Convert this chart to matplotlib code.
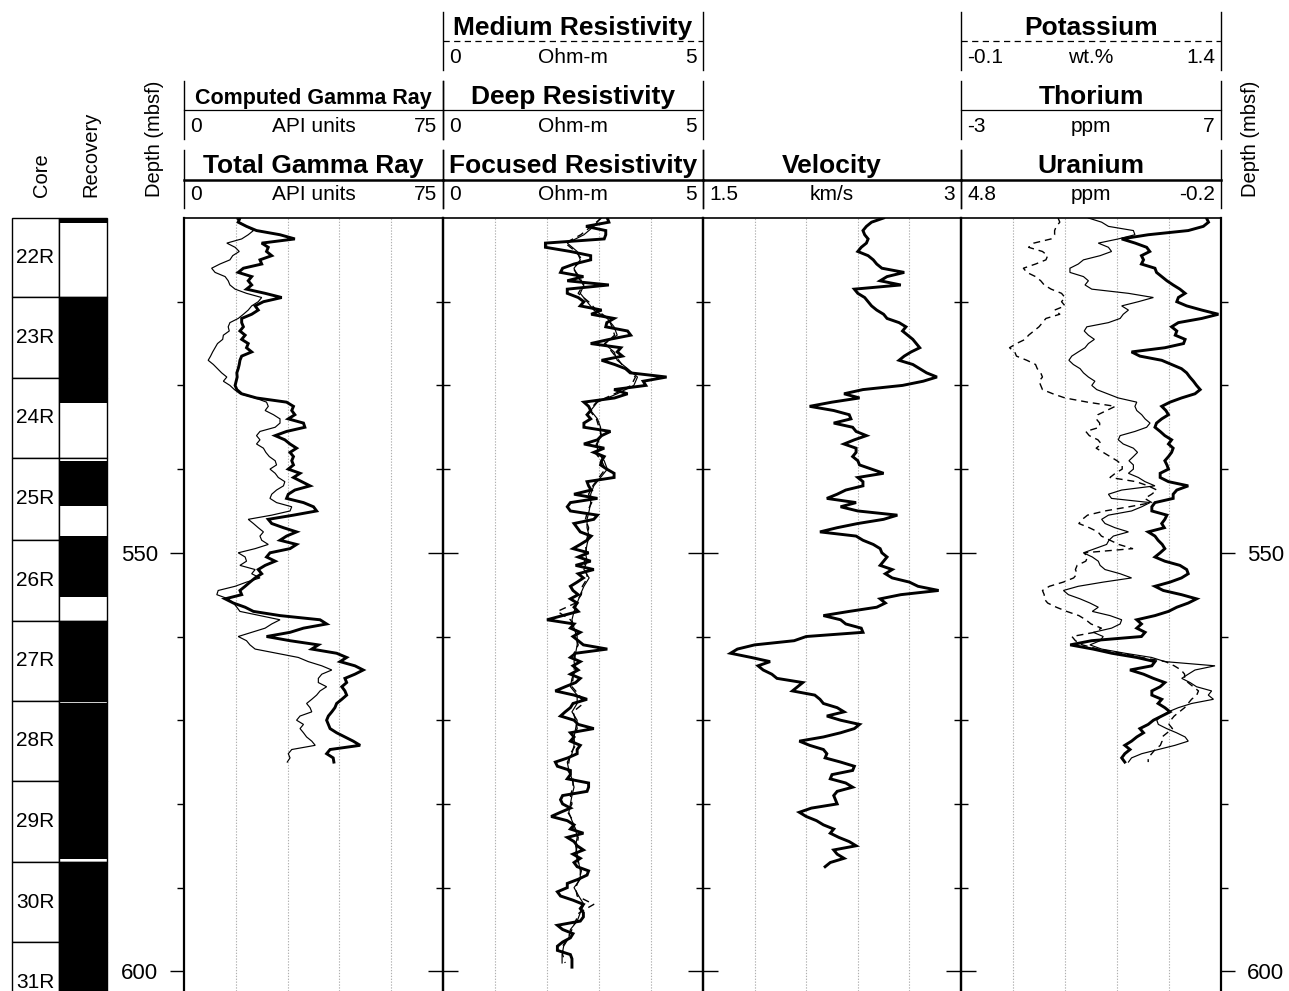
import numpy as np
import matplotlib
matplotlib.use('Agg')
import matplotlib.pyplot as plt
from matplotlib import font_manager
from matplotlib.lines import Line2D
from matplotlib.patches import Rectangle

plt.rcParams['font.family'] = ['Liberation Sans', 'DejaVu Sans']
_names = {f.name for f in font_manager.fontManager.ttflist}
NARROW = 'Liberation Sans Narrow' if 'Liberation Sans Narrow' in _names else None

# ---------------- data (depth in mbsf) ----------------
CORE_NAMES = ['22R', '23R', '24R', '25R', '26R', '27R', '28R', '29R', '30R', '31R']
CORE_TOP = [510.0, 519.45, 529.1, 538.65, 548.45, 558.15, 567.7, 577.25, 586.95, 596.5]
CORE_BOT = [519.45, 529.1, 538.65, 548.45, 558.15, 567.7, 577.25, 586.95, 596.5, 606.1]
REC_TOP = [510.0, 519.45, 539.0, 548.0, 558.15, 567.95, 586.95]
REC_BOT = [510.6, 532.1, 544.4, 555.3, 567.7, 586.6, 606.1]

LOG_TOP = 510.0
STEP = 0.5      # sample spacing of the digitised logs (m)
STEP_RES = 1.0  # deep / medium resistivity spacing (m)

total_gr = [
    16.2, 15.7, 18.1, 21.0, 27.8, 32.1, 22.5, 24.4, 23.9, 25.4,
    22.0, 22.5, 17.2, 15.7, 19.6, 18.6, 19.6, 18.1, 23.5, 28.3,
    23.0, 20.6, 21.5, 19.6, 16.7, 16.7, 17.2, 16.2, 17.7, 16.7,
    18.6, 18.1, 19.6, 16.7, 16.2, 16.0, 15.7, 15.3, 15.4, 15.1,
    14.8, 15.3, 16.7, 21.0, 29.7, 31.7, 31.2, 32.1, 30.2, 34.6,
    35.0, 29.7, 26.4, 29.2, 30.7, 32.6, 30.7, 31.7, 31.2, 31.7,
    30.2, 33.6, 31.7, 34.1, 36.5, 32.1, 30.2, 29.7, 34.6, 37.5,
    38.4, 31.7, 24.4, 25.4, 28.8, 32.6, 29.7, 27.8, 32.6, 30.7,
    24.9, 23.9, 26.4, 23.5, 21.5, 22.5, 20.6, 19.1, 17.7, 16.2,
    16.7, 11.9, 14.3, 17.7, 20.1, 27.8, 39.4, 41.3, 34.6, 30.7,
    23.9, 30.7, 38.9, 37.0, 44.2, 47.1, 45.2, 49.5, 51.9, 49.5,
    46.6, 47.1, 45.7, 46.6, 47.1, 45.7, 44.2, 43.7, 42.8, 41.8,
    41.3, 41.8, 42.3, 44.2, 46.6, 49.0, 51.0, 42.3, 41.3, 43.2, 43.4]

computed_gr = [
    15.3, 16.0, 18.1, 20.1, 18.6, 16.7, 12.4, 14.8, 16.0, 14.1,
    13.3, 10.4, 8.0, 9.0, 11.9, 12.8, 13.3, 14.8, 18.1, 22.5,
    21.5, 19.6, 18.6, 17.2, 15.7, 13.3, 12.8, 13.1, 11.4, 11.2,
    9.7, 9.0, 8.3, 7.7, 7.0, 8.5, 9.7, 10.9, 12.4, 11.4,
    13.3, 14.6, 16.2, 20.6, 23.9, 24.4, 23.5, 25.9, 27.8, 27.8,
    26.4, 22.0, 21.0, 22.0, 21.0, 23.0, 23.7, 24.7, 26.4, 26.8,
    24.9, 26.4, 27.3, 29.2, 28.8, 26.8, 25.4, 24.9, 26.8, 31.2,
    30.7, 25.4, 18.6, 20.1, 21.5, 23.0, 22.0, 22.5, 24.4, 20.6,
    15.7, 17.7, 18.1, 16.2, 20.6, 19.6, 22.0, 18.1, 14.8, 9.9,
    9.5, 12.8, 14.3, 15.3, 16.2, 22.0, 27.8, 25.4, 23.5, 19.6,
    15.7, 18.1, 19.1, 20.6, 26.8, 33.1, 36.0, 39.9, 42.8, 39.9,
    38.9, 38.9, 41.3, 39.4, 38.4, 37.0, 35.5, 36.5, 37.0, 33.6,
    32.6, 34.6, 33.6, 34.6, 35.5, 37.0, 38.0, 31.2, 30.2, 30.7, 29.9]

focused_res = [
    3.16, 3.19, 2.75, 3.13, 3.13, 3.10, 1.97, 1.97, 2.45, 2.84,
    2.84, 2.52, 2.30, 2.26, 2.70, 2.39, 3.19, 2.39, 2.39, 2.60,
    2.71, 2.64, 3.05, 2.85, 3.29, 3.15, 3.13, 3.55, 3.61, 3.20,
    2.84, 3.42, 3.35, 3.45, 3.05, 3.30, 3.51, 3.60, 4.30, 3.85,
    3.90, 3.29, 3.55, 3.30, 2.71, 2.80, 2.84, 2.77, 2.84, 2.71,
    2.71, 3.22, 3.05, 2.97, 2.71, 3.10, 2.90, 3.10, 3.05, 3.03,
    3.15, 3.29, 3.29, 2.77, 2.80, 2.85, 2.52, 2.97, 2.45, 2.39,
    2.45, 2.97, 2.90, 2.52, 2.58, 2.64, 2.85, 2.77, 2.64, 2.50,
    2.80, 2.60, 2.84, 2.55, 2.90, 2.60, 2.70, 2.58, 2.45, 2.50,
    2.60, 2.45, 2.58, 2.52, 2.60, 2.30, 2.00, 2.52, 2.45, 2.64,
    2.50, 2.60, 2.70, 3.16, 2.55, 2.45, 2.64, 2.50, 2.60, 2.45,
    2.64, 2.55, 2.35, 2.16, 2.52, 2.77, 2.50, 2.45, 2.35, 2.26,
    2.52, 2.60, 2.90, 2.45, 2.52, 2.45, 2.64, 2.58, 2.58, 2.40,
    2.16, 2.20, 2.45, 2.45, 2.39, 2.80, 2.80, 2.77, 2.30, 2.26,
    2.30, 2.45, 2.26, 2.08, 2.39, 2.52, 2.45, 2.70, 2.39, 2.52,
    2.58, 2.70, 2.50, 2.64, 2.52, 2.58, 2.80, 2.77, 2.60, 2.39,
    2.39, 2.20, 2.26, 2.50, 2.70, 2.64, 2.70, 2.70, 2.64, 2.20,
    2.30, 2.50, 2.45, 2.30, 2.20, 2.20, 2.45, 2.48, 2.48, 2.48]

deep_res = [
    3.03, 2.90, 2.71, 2.39, 2.58, 2.64, 2.52, 2.58, 2.71, 2.64,
    2.77, 2.90, 3.16, 3.29, 3.35, 3.10, 3.29, 3.35, 3.55, 3.74,
    3.67, 3.35, 2.97, 2.84, 2.97, 3.03, 3.03, 2.97, 2.97, 3.10,
    3.16, 3.03, 2.90, 2.84, 2.84, 2.81, 2.77, 2.77, 2.81, 2.77,
    2.74, 2.77, 2.71, 2.81, 2.71, 2.64, 2.58, 2.52, 2.48, 2.52,
    2.58, 2.58, 2.55, 2.52, 2.55, 2.48, 2.45, 2.58, 2.58, 2.48,
    2.58, 2.55, 2.52, 2.52, 2.48, 2.39, 2.42, 2.48, 2.52, 2.48,
    2.45, 2.42, 2.48, 2.55, 2.58, 2.55, 2.58, 2.61, 2.64, 2.64,
    2.52, 2.61, 2.71, 2.64, 2.58, 2.45, 2.42, 2.32, 2.29, 2.29]

medium_res = [
    3.05, 2.85, 2.65, 2.35, 2.55, 2.68, 2.50, 2.62, 2.70, 2.60,
    2.80, 2.95, 3.18, 3.25, 3.30, 3.12, 3.25, 3.38, 3.50, 3.70,
    3.62, 3.30, 2.95, 2.82, 2.95, 3.00, 3.05, 2.95, 2.92, 3.05,
    3.12, 3.00, 2.88, 2.80, 2.86, 2.78, 2.74, 2.80, 2.78, 2.74,
    2.76, 2.72, 2.74, 2.78, 2.68, 2.66, 2.55, 2.20, 2.45, 2.55,
    2.55, 2.60, 2.52, 2.55, 2.52, 2.50, 2.48, 2.62, 2.70, 2.50,
    2.55, 2.58, 2.50, 2.55, 2.45, 2.42, 2.40, 2.50, 2.50, 2.45,
    2.48, 2.40, 2.50, 2.52, 2.60, 2.58, 2.55, 2.60, 2.66, 2.62,
    2.55, 2.58, 2.90, 2.62, 2.55, 2.48, 2.40, 2.30, 2.30, 2.35]

velocity = [
    2.55, 2.48, 2.45, 2.43, 2.44, 2.46, 2.45, 2.42, 2.40, 2.46,
    2.49, 2.51, 2.54, 2.67, 2.57, 2.53, 2.65, 2.38, 2.40, 2.44,
    2.46, 2.48, 2.51, 2.55, 2.57, 2.64, 2.68, 2.66, 2.69, 2.72,
    2.74, 2.76, 2.71, 2.67, 2.64, 2.72, 2.76, 2.80, 2.86, 2.78,
    2.66, 2.43, 2.32, 2.41, 2.25, 2.12, 2.26, 2.35, 2.36, 2.26,
    2.37, 2.39, 2.45, 2.38, 2.32, 2.39, 2.39, 2.37, 2.40, 2.41,
    2.48, 2.55, 2.40, 2.43, 2.43, 2.33, 2.28, 2.22, 2.39, 2.30,
    2.40, 2.63, 2.55, 2.40, 2.28, 2.18, 2.39, 2.43, 2.49, 2.53,
    2.54, 2.57, 2.55, 2.53, 2.60, 2.56, 2.60, 2.70, 2.75, 2.87,
    2.65, 2.53, 2.56, 2.51, 2.35, 2.20, 2.30, 2.33, 2.42, 2.43,
    2.10, 2.03, 1.80, 1.70, 1.66, 1.78, 1.89, 1.82, 1.85, 1.90,
    1.93, 2.08, 2.05, 2.02, 2.15, 2.18, 2.20, 2.28, 2.32, 2.22,
    2.30, 2.41, 2.38, 2.30, 2.20, 2.06, 2.12, 2.20, 2.22, 2.21,
    2.30, 2.38, 2.37, 2.25, 2.24, 2.33, 2.37, 2.28, 2.26, 2.27,
    2.28, 2.13, 2.06, 2.10, 2.16, 2.20, 2.26, 2.24, 2.29, 2.35,
    2.39, 2.26, 2.28, 2.32, 2.24, 2.21]

uranium = [
    0.08, 0.04, 0.14, 0.43, 1.20, 1.71, 1.45, 1.23, 1.17, 1.33,
    1.29, 1.33, 1.07, 1.04, 0.94, 0.84, 0.72, 0.59, 0.49, 0.62,
    0.65, 0.46, 0.17, -0.15, 0.17, 0.62, 0.75, 0.65, 0.68, 0.49,
    0.52, 0.88, 1.52, 1.36, 0.94, 0.75, 0.56, 0.46, 0.40, 0.33,
    0.27, 0.20, 0.30, 0.56, 0.78, 0.94, 0.86, 0.81, 0.94, 1.04,
    1.07, 0.97, 0.88, 0.75, 0.81, 0.72, 0.75, 0.81, 0.88, 0.84,
    0.81, 0.97, 0.97, 0.81, 0.43, 0.65, 0.72, 0.72, 1.07, 1.13,
    1.13, 0.84, 0.88, 0.94, 0.89, 1.20, 1.07, 1.01, 0.93, 0.88,
    0.97, 1.07, 0.88, 0.59, 0.46, 0.43, 0.56, 0.78, 1.07, 0.91,
    0.56, 0.27, 0.43, 0.65, 0.81, 1.07, 1.42, 1.33, 1.42, 1.26,
    1.33, 2.29, 2.70, 2.26, 1.90, 1.42, 1.07, 1.13, 1.55, 1.29,
    1.10, 0.88, 0.97, 1.13, 1.13, 0.94, 1.01, 0.88, 0.78, 0.94,
    1.10, 1.20, 1.36, 1.29, 1.42, 1.52, 1.65, 1.55, 1.65, 1.71, 1.65]

thorium = [
    1.90, 2.41, 2.67, 3.63, 3.69, 3.05, 2.28, 2.67, 2.79, 2.35,
    1.71, 1.51, 1.19, 1.19, 1.71, 1.90, 1.77, 2.03, 3.44, 4.40,
    3.82, 3.18, 3.44, 3.24, 3.12, 2.67, 1.84, 1.74, 1.90, 2.13,
    1.90, 1.77, 1.51, 1.26, 1.15, 1.32, 1.58, 1.71, 1.90, 2.15,
    2.03, 2.22, 2.64, 3.05, 3.76, 3.69, 3.76, 3.95, 4.08, 4.27,
    4.14, 3.69, 3.12, 3.05, 3.24, 3.63, 3.79, 3.63, 3.46, 3.63,
    3.63, 3.44, 3.82, 4.08, 4.46, 3.18, 2.67, 2.79, 4.27, 3.95,
    3.56, 2.67, 2.41, 2.54, 2.92, 3.44, 2.86, 2.69, 2.60, 2.15,
    1.71, 2.05, 2.28, 2.35, 2.54, 3.12, 3.56, 2.47, 1.51, 0.94,
    1.13, 1.58, 1.96, 2.28, 2.05, 2.73, 3.18, 3.12, 2.79, 2.09,
    2.47, 2.35, 1.96, 2.41, 3.31, 4.33, 4.85, 6.77, 6.00, 5.74,
    5.49, 5.81, 6.06, 6.64, 6.51, 6.71, 5.87, 5.36, 4.97, 4.72,
    4.53, 4.59, 4.91, 5.29, 5.62, 5.74, 5.23, 4.59, 3.95, 3.56, 3.44]

potassium = [
    0.46, 0.47, 0.45, 0.44, 0.44, 0.42, 0.32, 0.29, 0.37, 0.40,
    0.39, 0.33, 0.26, 0.28, 0.33, 0.36, 0.38, 0.42, 0.48, 0.50,
    0.48, 0.50, 0.44, 0.47, 0.39, 0.37, 0.35, 0.32, 0.29, 0.27,
    0.22, 0.18, 0.21, 0.22, 0.28, 0.33, 0.34, 0.36, 0.37, 0.35,
    0.36, 0.37, 0.43, 0.50, 0.63, 0.79, 0.74, 0.69, 0.68, 0.70,
    0.70, 0.62, 0.64, 0.69, 0.71, 0.68, 0.72, 0.76, 0.80, 0.83,
    0.83, 0.79, 0.76, 0.91, 0.98, 1.03, 1.00, 0.96, 1.00, 0.87,
    0.73, 0.63, 0.60, 0.58, 0.64, 0.69, 0.71, 0.76, 0.81, 0.89,
    0.61, 0.63, 0.62, 0.57, 0.56, 0.57, 0.55, 0.49, 0.41, 0.37,
    0.38, 0.38, 0.40, 0.45, 0.51, 0.58, 0.62, 0.65, 0.71, 0.67,
    0.54, 0.56, 0.60, 0.69, 0.83, 0.94, 1.08, 1.13, 1.17, 1.19,
    1.19, 1.21, 1.24, 1.27, 1.26, 1.23, 1.21, 1.19, 1.16, 1.13,
    1.11, 1.10, 1.12, 1.09, 1.06, 1.06, 1.05, 1.02, 1.00, 0.98, 0.98]

MAJOR_DEPTHS = [550, 600]
MINOR_DEPTHS = [520, 530, 540, 560, 570, 580, 590]


def depths(vals, step):
    return LOG_TOP + step * np.arange(len(vals))


# ---------------- layout ----------------
FIG_PX = (1289, 991)
PLOT_TOP_PX = 218
D_TOP, D_BOT = 510.0, 602.35

fig = plt.figure(figsize=(FIG_PX[0] / 100, FIG_PX[1] / 100), dpi=100)
fig.patch.set_facecolor('white')


def fx(px):
    return px / FIG_PX[0]


def fy(py):
    return 1.0 - py / FIG_PX[1]


def column_axes(x0, x1):
    ax = fig.add_axes([fx(x0), 0.0, fx(x1) - fx(x0), fy(PLOT_TOP_PX)])
    ax.set_facecolor('none')
    ax.set_ylim(D_BOT, D_TOP)
    return ax


STYLES = {
    'thick': dict(lw=2.1, ls='-'),
    'thin': dict(lw=0.85, ls='-'),
    'dash': dict(lw=1.0, ls=(0, (5, 3.5))),
}
HDR_STYLES = {
    'thick': dict(lw=1.8, ls='-'),
    'thin': dict(lw=0.9, ls='-'),
    'dash': dict(lw=0.9, ls=(0, (5, 3.5))),
}
# row -> (bar top, bar bottom, line y, title baseline, scale baseline), px from top
ROWS = {1: (12, 70, 41, 35, 63), 2: (81, 139, 110, 104, 132), 3: (150, 208, 180, 173, 200)}

# track px span, x range, curves: (row, title, unit, values, step, style, narrow title)
TRACKS = [
    ((184, 443), (0, 75), [
        (2, 'Computed Gamma Ray', 'API units', computed_gr, STEP, 'thin', True),
        (3, 'Total Gamma Ray', 'API units', total_gr, STEP, 'thick', False)]),
    ((443, 703), (0, 5), [
        (1, 'Medium Resistivity', 'Ohm-m', medium_res, STEP_RES, 'dash', False),
        (2, 'Deep Resistivity', 'Ohm-m', deep_res, STEP_RES, 'thin', False),
        (3, 'Focused Resistivity', 'Ohm-m', focused_res, STEP, 'thick', False)]),
    ((703, 961), (1.5, 3), [
        (3, 'Velocity', 'km/s', velocity, STEP, 'thick', False)]),
    ((961, 1221), None, [
        (1, 'Potassium', 'wt.%', potassium, STEP, 'dash', False),
        (2, 'Thorium', 'ppm', thorium, STEP, 'thin', False),
        (3, 'Uranium', 'ppm', uranium, STEP, 'thick', False)]),
]
TRACK4_RANGES = {'Potassium': (-0.1, 1.4), 'Thorium': (-3, 7), 'Uranium': (4.8, -0.2)}


def fig_line(xs, ys, **kw):
    fig.add_artist(Line2D([fx(x) for x in xs], [fy(y) for y in ys],
                          transform=fig.transFigure, color='black', **kw))


def set_depth_ticks(ax, direction, labels, side='left'):
    ax.set_yticks(MAJOR_DEPTHS)
    ax.set_yticks(MINOR_DEPTHS, minor=True)
    inout = direction == 'inout'
    ax.tick_params(axis='y', which='major', direction=direction,
                   length=21 if inout else 10, width=1.0, labelsize=16, pad=8.5)
    ax.tick_params(axis='y', which='minor', direction=direction,
                   length=10 if inout else 5, width=1.0)
    if side == 'left':
        ax.tick_params(axis='y', left=True, right=False, labelleft=labels, labelright=False)
    else:
        ax.tick_params(axis='y', left=False, right=True, labelleft=False, labelright=labels)


track_axes = []
for ti, ((x0, x1), xr, curves) in enumerate(TRACKS):
    ax = column_axes(x0, x1)
    base = xr if xr is not None else (0, 5)
    ax.set_xlim(*base)
    for g in np.linspace(base[0], base[1], 6)[1:-1]:
        ax.axvline(g, color='#b0b0b0', lw=0.8, ls=(0, (1.2, 1.4)), zorder=0)
    ax.spines['bottom'].set_visible(False)
    ax.spines['top'].set_linewidth(1.2)
    ax.spines['left'].set_linewidth(1.6)
    ax.spines['right'].set_linewidth(1.6)
    ax.set_xticks([])
    set_depth_ticks(ax, 'out' if ti == 0 else 'inout', labels=(ti == 0))
    track_axes.append(ax)

    for row, title, unit, vals, step, style, narrow in curves:
        lo, hi = xr if xr is not None else TRACK4_RANGES[title]
        # curve in its own scale
        cax = ax if xr is not None else ax.twiny()
        if cax is not ax:
            cax.set_xlim(lo, hi)
            cax.set_ylim(D_BOT, D_TOP)
            cax.axis('off')
        cax.plot(vals, depths(vals, step), color='black', solid_joinstyle='miter',
                 clip_on=True, **STYLES[style])

        # header block
        bt, bb, ly, tb, sb = ROWS[row]
        fig_line([x0, x0], [bt, bb], lw=1.0)
        fig_line([x1, x1], [bt, bb], lw=1.0)
        fig_line([x0, x1], [ly, ly], **HDR_STYLES[style])
        cx = (x0 + x1) / 2
        if narrow and NARROW:
            fig.text(fx(cx), fy(tb), title, ha='center', va='baseline', fontsize=19,
                     fontweight='bold', family=[NARROW, 'DejaVu Sans'])
        elif narrow:
            fig.text(fx(cx), fy(tb), title, ha='center', va='baseline', fontsize=15.5,
                     fontweight='bold')
        else:
            fig.text(fx(cx), fy(tb), title, ha='center', va='baseline', fontsize=19,
                     fontweight='bold')
        fig.text(fx(x0 + 6), fy(sb), f'{lo:g}', ha='left', va='baseline', fontsize=15)
        fig.text(fx(cx), fy(sb), unit, ha='center', va='baseline', fontsize=15)
        fig.text(fx(x1 - 6), fy(sb), f'{hi:g}', ha='right', va='baseline', fontsize=15)

# right-hand depth scale
axr = track_axes[-1].twinx()
axr.set_ylim(D_BOT, D_TOP)
for s in axr.spines.values():
    s.set_visible(False)
set_depth_ticks(axr, 'out', labels=True, side='right')

# ---------------- core / recovery columns ----------------
ax_core = column_axes(12, 59)
ax_rec = column_axes(59, 107)
for a in (ax_core, ax_rec):
    a.set_xlim(0, 1)
    a.axis('off')

for name, top, bot in zip(CORE_NAMES, CORE_TOP, CORE_BOT):
    for a in (ax_core, ax_rec):
        a.add_patch(Rectangle((0, top), 1, bot - top, facecolor='white',
                              edgecolor='black', lw=1.0, clip_on=False))
    ax_core.text(0.5, (top + bot) / 2, name, ha='center', va='center',
                 fontsize=17 if NARROW else 15,
                 family=[NARROW, 'DejaVu Sans'] if NARROW else None, clip_on=False)

for top, bot in zip(REC_TOP, REC_BOT):
    ax_rec.add_patch(Rectangle((0, top), 1, bot - top, facecolor='black',
                               edgecolor='none', clip_on=False))

# column headings
fig.text(fx(42), fy(197), 'Core', rotation=90, ha='center', va='bottom', fontsize=14.5)
fig.text(fx(91), fy(197), 'Recovery', rotation=90, ha='center', va='bottom', fontsize=14.5)
fig.text(fx(154), fy(197), 'Depth (mbsf)', rotation=90, ha='center', va='bottom', fontsize=14.5)
fig.text(fx(1251), fy(197), 'Depth (mbsf)', rotation=90, ha='center', va='bottom', fontsize=14.5)

fig.savefig('out.png', dpi=100)
